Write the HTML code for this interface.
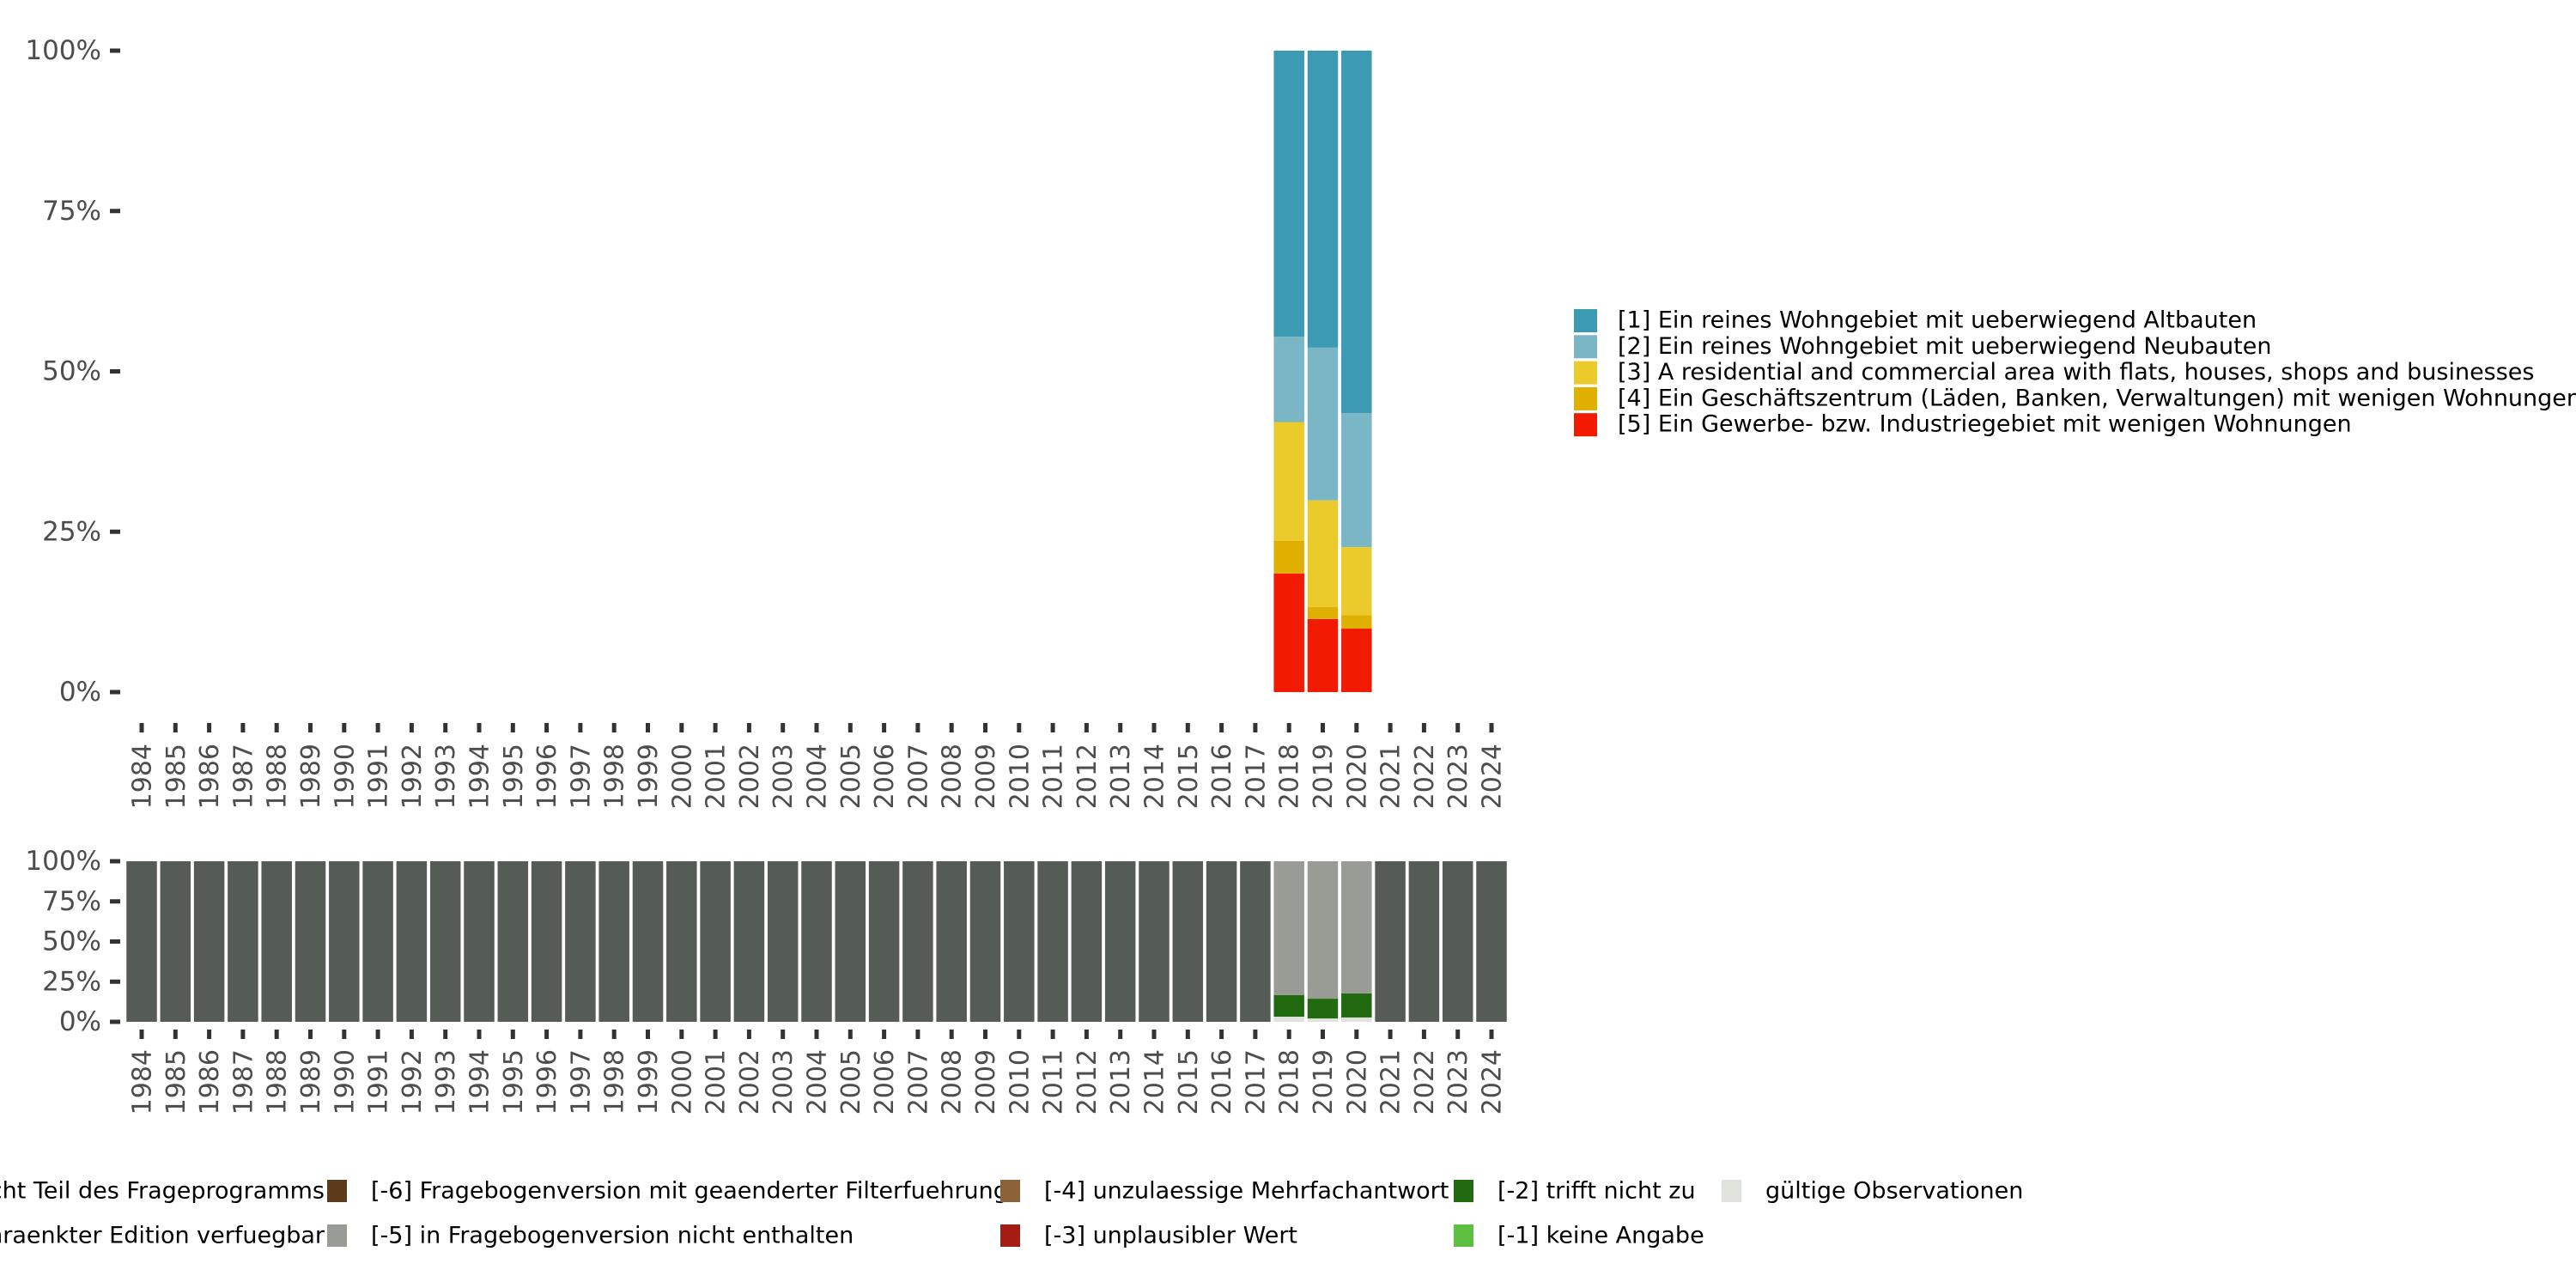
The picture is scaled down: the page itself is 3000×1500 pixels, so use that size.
<!DOCTYPE html>
<html><head><meta charset="utf-8"><style>
html,body{margin:0;padding:0;background:#fff;}
svg{display:block;font-family:"DejaVu Sans","Liberation Sans",sans-serif;}
</style></head><body>
<svg id="chart" width="3000" height="1500" viewBox="0 0 3000 1500" xmlns="http://www.w3.org/2000/svg">
<g id="top"></g>
<g id="bot"></g>
<g id="leg1"></g>
<g id="leg2"></g>
</svg>
<script>
const years = [];
for (let y = 1984; y <= 2024; y++) years.push(y);
const topYears = [2018, 2019, 2020];
const cat1 = [44.6, 46.3, 56.5];
const cat2 = [13.3, 23.8, 20.9];
const cat3 = [18.5, 16.6, 10.6];
const cat4 = [5.1, 1.9, 2.1];
const cat5 = [18.5, 11.4, 9.9];
const topLabels = ["[1] Ein reines Wohngebiet mit ueberwiegend Altbauten","[2] Ein reines Wohngebiet mit ueberwiegend Neubauten","[3] A residential and commercial area with flats, houses, shops and businesses","[4] Ein Geschäftszentrum (Läden, Banken, Verwaltungen) mit wenigen Wohnungen","[5] Ein Gewerbe- bzw. Industriegebiet mit wenigen Wohnungen"];
const topColors = ["#3d9ab3","#7ab6c6","#eacb2b","#e0b000","#f21a00"];
const validShare = [3.2, 2.1, 2.7];
const notApply = [13.4, 12.3, 15.0];
const notInVersion = [83.4, 85.6, 82.3];
const yTicks = [0, 25, 50, 75, 100];
const NS = "http://www.w3.org/2000/svg";
function mk(tag, attrs, parent){const e=document.createElementNS(NS,tag);for(const k in attrs)e.setAttribute(k,attrs[k]);parent.appendChild(e);return e;}
const step = 39.3, x0 = 165, bw = 35.5;
function xs(yr){return x0 + (yr-1984)*step;}
function yTop(v){return 806 - v*7.47;}
function yBot(v){return 1190 - v*1.87;}
const topG = document.getElementById('top');
const botG = document.getElementById('bot');
function axes(g, yf, tickY, labelY){
  yTicks.forEach(v=>{
    const t = mk('text',{x:118,y:yf(v),'text-anchor':'end','dominant-baseline':'central','font-size':31,fill:'#4d4d4d'},g);
    t.textContent = v+'%';
    
    
    mk('line',{x1:128,x2:140,y1:yf(v),y2:yf(v),stroke:'#333',"stroke-width":5},g);
  });
  years.forEach(yr=>{
    mk('line',{x1:xs(yr),x2:xs(yr),y1:tickY,y2:tickY+11,stroke:'#333',"stroke-width":5},g);
    const t = mk('text',{x:0,y:0,'text-anchor':'end','dominant-baseline':'central','font-size':30,fill:'#4d4d4d',transform:`translate(${xs(yr)+1},${labelY}) rotate(-90)`},g);
    t.textContent = yr;
    
    
  });
}
const topSeries = [cat5, cat4, cat3, cat2, cat1];
const topSeriesColors = [topColors[4], topColors[3], topColors[2], topColors[1], topColors[0]];
topYears.forEach((yr,i)=>{
  let cum = 0;
  topSeries.forEach((s,j)=>{
    const r = mk('rect',{x:xs(yr)-bw/2,y:yTop(cum+s[i]),width:bw,height:yTop(cum)-yTop(cum+s[i]),fill:topSeriesColors[j]},topG);
    
    
    cum += s[i];
  });
});
axes(topG, yTop, 842, 866);
years.forEach(yr=>{
  const i = topYears.indexOf(yr);
  if (i < 0) {
    const r = mk('rect',{x:xs(yr)-bw/2,y:yBot(100),width:bw,height:yBot(0)-yBot(100),fill:'#555b55'},botG);
    
    
  } else {
    const segs = [[validShare[i],'#e0e3dd'],[notApply[i],'#216a10'],[notInVersion[i],'#989c95']];
    let cum = 0;
    segs.forEach(([v,c])=>{
      const r = mk('rect',{x:xs(yr)-bw/2,y:yBot(cum+v),width:bw,height:yBot(cum)-yBot(cum+v),fill:c},botG);
      
      
      cum += v;
    });
  }
});
axes(botG, yBot, 1199, 1222);
const l1 = document.getElementById('leg1');
topLabels.forEach((lab,i)=>{
  const y = 373 + i*30.3;
  const r = mk('rect',{x:1833,y:y-13,width:27,height:27,fill:topColors[i]},l1);
  
  
  const t = mk('text',{x:1884,y:y,'dominant-baseline':'central','font-size':27,fill:'#000'},l1);
  t.textContent = lab;
  
  
});
const l2 = document.getElementById('leg2');
const bl = [
 [378,1387,null,"[-8] Frage in diesem Jahr nicht Teil des Frageprogramms",true],
 [378,1439,null,"[-7] nur in eingeschraenkter Edition verfuegbar",true],
 [381,1387,"#5c3a1a","[-6] Fragebogenversion mit geaenderter Filterfuehrung"],
 [381,1439,"#989c95","[-5] in Fragebogenversion nicht enthalten"],
 [1165,1387,"#8c6239","[-4] unzulaessige Mehrfachantwort"],
 [1165,1439,"#a51c15","[-3] unplausibler Wert"],
 [1693,1387,"#216a10","[-2] trifft nicht zu"],
 [1693,1439,"#5cbf3f","[-1] keine Angabe"],
 [2005,1387,"#e0e3dd","gültige Observationen"]
];
bl.forEach(([x,y,c,lab,end])=>{
  if (c) {
    const r = mk('rect',{x:x,y:y-13,width:23,height:26,fill:c},l2);
    
    
  }
  const t = mk('text',{x:end?x:x+51,y:y,'text-anchor':end?'end':'start','dominant-baseline':'central','font-size':27,fill:'#000'},l2);
  t.textContent = lab;
  
  
});
</script>
</body></html>
